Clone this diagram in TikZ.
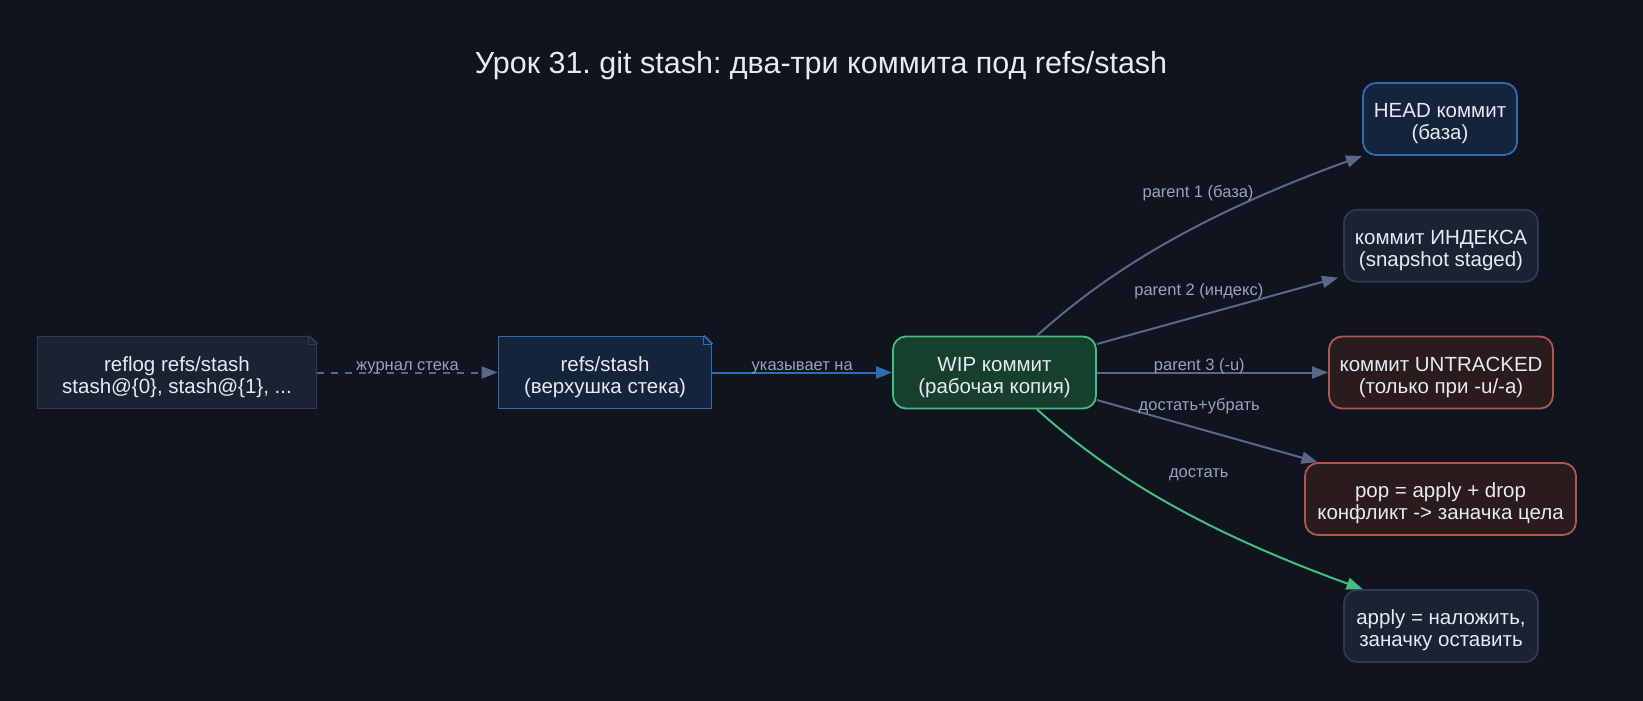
\documentclass[tikz,border=0pt]{standalone}
\usepackage{fontspec}
\setmainfont{Liberation Sans}
\usetikzlibrary{arrows.meta}
\usetikzlibrary{positioning}
\frenchspacing
\definecolor{bgcol}{HTML}{10141F}
\definecolor{txtcol}{HTML}{E6EAF2}
\definecolor{lblcol}{HTML}{98A3BC}
\definecolor{greyfill}{HTML}{1B2232}
\definecolor{greyline}{HTML}{2C3A57}
\definecolor{bluefill}{HTML}{13243B}
\definecolor{blueline}{HTML}{2E6DB4}
\definecolor{greenfill}{HTML}{16402C}
\definecolor{greenline}{HTML}{41BF80}
\definecolor{redfill}{HTML}{2A1B1C}
\definecolor{redline}{HTML}{B0584F}
\definecolor{edgecol}{HTML}{5A6888}
\tikzset{>={Triangle[length=16pt,width=12pt]}, font=\fontsize{20.5}{22}\selectfont}
\tikzstyle{noteblock} = [draw, rectangle, line width=1.8pt, minimum height=72pt, text height=46pt, text depth=5pt, text=txtcol, align=center]
\tikzstyle{commit} = [draw, rectangle, rounded corners=13pt, line width=1.8pt, minimum height=72pt, text height=46pt, text depth=5pt, text=txtcol, align=center]
\tikzstyle{edgelabel} = [font=\fontsize{16.5}{18}\selectfont, text=lblcol, inner sep=0pt, anchor=center]
\tikzstyle{link} = [->, line width=2pt, draw=edgecol]
\tikzstyle{title} = [font=\fontsize{30.5}{34}\selectfont, text=txtcol]
\newcommand{\notefold}[2]{
	\fill [bgcol] ([xshift=-9pt]#1.north east) -- ([xshift=1pt,yshift=1pt]#1.north east) -- ([yshift=-9pt]#1.north east) -- cycle;
	\draw [#2, line width=1.8pt] ([xshift=-8.5pt]#1.north east) -- ([yshift=-8.5pt]#1.north east);
	\draw [#2, line width=1.1pt] ([xshift=-8.5pt]#1.north east) |- ([yshift=-8.5pt]#1.north east);
}

\begin{document}
\begin{tikzpicture}[x=1pt,y=-1pt]
		\fill [bgcol] (0,0) rectangle (1643,701);
		\useasboundingbox (0,0) rectangle (1643,701);
		\node [title] (title) at (821,66) {Урок 31. git stash: два-три коммита под refs/stash};

		\node [noteblock, fill=greyfill, draw=greyline, minimum width=279pt] (reflog) at (177,372.5) {reflog refs/stash\\stash@\{0\}, stash@\{1\}, ...};
		\node [noteblock, fill=bluefill, draw=blueline, minimum width=213pt] (stash) at (605,372.5) {refs/stash\\(верхушка стека)};
		\node [commit, fill=greenfill, draw=greenline, minimum width=203pt] (wip) at (994.5,372.5) {WIP коммит\\(рабочая копия)};
		\node [commit, fill=bluefill, draw=blueline, minimum width=154pt] (head) at (1440,119) {HEAD коммит\\(база)};
		\node [commit, fill=greyfill, draw=greyline, minimum width=194pt] (index) at (1441,245.7) {коммит ИНДЕКСА\\(snapshot staged)};
		\node [commit, fill=redfill, draw=redline, minimum width=224pt] (untracked) at (1441,372.5) {коммит UNTRACKED\\(только при -u/-a)};
		\node [commit, fill=redfill, draw=redline, minimum width=271pt] (pop) at (1440.5,499) {pop = apply + drop\\конфликт -> заначка цела};
		\node [commit, fill=greyfill, draw=greyline, minimum width=194pt] (apply) at (1441,626) {apply = наложить,\\заначку оставить};
		\notefold{reflog}{greyline}
		\notefold{stash}{blueline}

		\draw [link, dash pattern=on 7pt off 7pt] (reflog) -- node [edgelabel, anchor=base, yshift=2pt] {журнал стека} (stash);
		\draw [link, draw=blueline] (stash) -- node [edgelabel, anchor=base, yshift=2pt] {указывает на} (wip);
		\draw [link] ([xshift=42.5pt]wip.north) .. controls (1110,270) and (1200,215) .. node [edgelabel, pos=0.65, xshift=-18pt, yshift=24pt] {parent 1 (база)} (head.south west);
		\draw [link] ([yshift=28.5pt]wip.east) -- node [edgelabel, xshift=-18.7pt, yshift=19.5pt] {parent 2 (индекс)} ([xshift=-5pt,yshift=5pt]index.south west);
		\draw [link] (wip) -- node [edgelabel, anchor=base, yshift=2pt, pos=0.443] {parent 3 (-u)} (untracked);
		\draw [link] ([yshift=-27.5pt]wip.east) -- node [edgelabel, xshift=-8pt, yshift=25pt] {достать+убрать} ([xshift=13.5pt]pop.north west);
		\draw [link, draw=greenline] ([xshift=42.5pt]wip.south) .. controls (1110,475) and (1200,530) .. node [edgelabel, pos=0.5, xshift=32.6pt, yshift=26.5pt] {достать} ([xshift=19.5pt]apply.north west);
	\end{tikzpicture}
\end{document}
